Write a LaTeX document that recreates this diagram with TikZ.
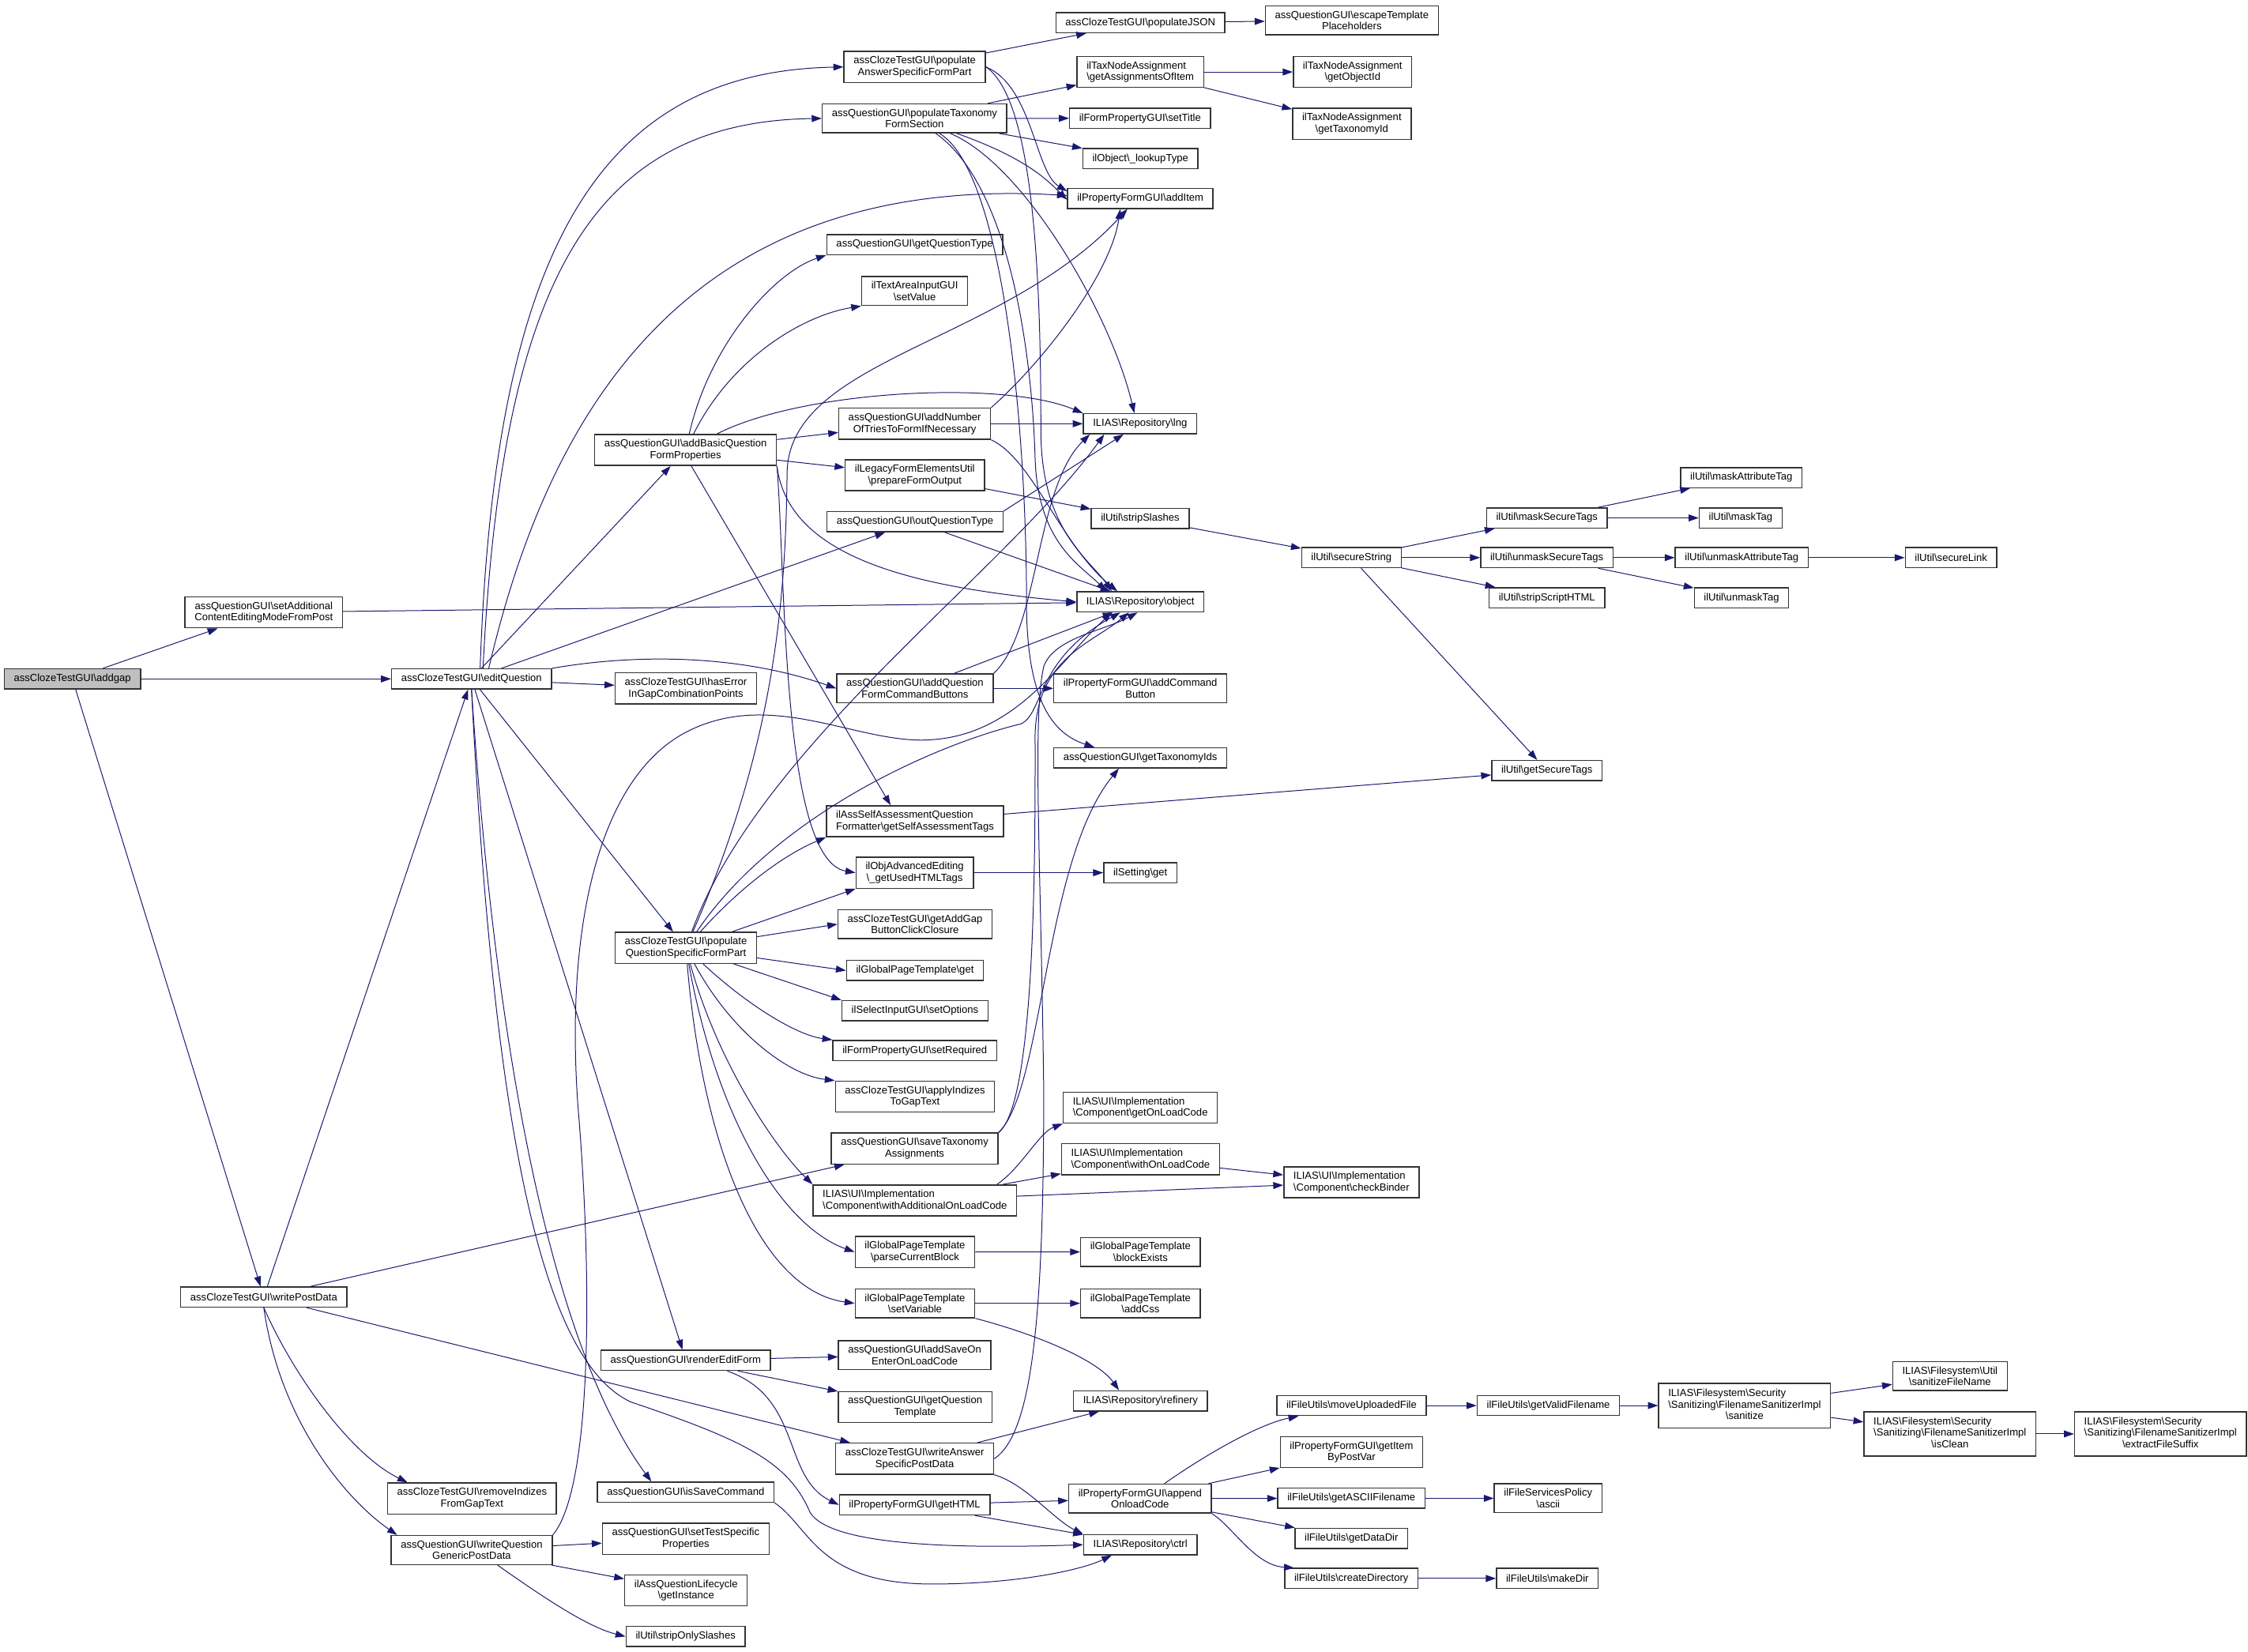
\documentclass[tikz,border=0pt]{standalone}
\usepackage{fontspec}
\setmainfont{Liberation Sans}
\usetikzlibrary{positioning}
\usetikzlibrary{arrows.meta}
\definecolor{edgeblue}{RGB}{25,25,112}
\newcommand{\bsl}{\textbackslash}

\begin{document}
\begin{tikzpicture}[x=1pt, y=-1pt,
    funcnode/.style={rectangle, draw=black!80, fill=white, line width=0.8pt, align=center, inner xsep=6.7pt, inner ysep=3.4pt, minimum height=14pt, font=\fontsize{7.2}{8.1}\selectfont},
    rootnode/.style={funcnode, fill=black!25},
    leftnode/.style={funcnode, align=left},
    callarrow/.style={->, draw=edgeblue, line width=0.55pt},
    >={Triangle[length=7pt, width=4.8pt]},
  ]
  \useasboundingbox (0,0) rectangle (1568,1152);

  %Nodes
  \node[rootnode] (addgap) at (50.5,473.6) {assClozeTestGUI\bsl addgap};
  \node[funcnode] (setAddl) at (184,427.2) {assQuestionGUI\bsl setAdditional\\ContentEditingModeFromPost};
  \node[funcnode] (writePost) at (184,904.8) {assClozeTestGUI\bsl writePostData};

  \node[funcnode] (editQ) at (328.9,473.6) {assClozeTestGUI\bsl editQuestion};
  \node[funcnode] (removeIdx) at (329.2,1045.3) {assClozeTestGUI\bsl removeIndizes\\FromGapText};
  \node[funcnode] (writeGeneric) at (329,1081.3) {assQuestionGUI\bsl writeQuestion\\GenericPostData};

  \node[funcnode] (addBasic) at (478.2,313.9) {assQuestionGUI\bsl addBasicQuestion\\FormProperties};
  \node[funcnode] (hasError) at (478.4,480.2) {assClozeTestGUI\bsl hasError\\InGapCombinationPoints};
  \node[funcnode] (popQSFP) at (478.4,661.2) {assClozeTestGUI\bsl populate\\QuestionSpecificFormPart};
  \node[funcnode] (renderEdit) at (478.3,949) {assQuestionGUI\bsl renderEditForm};
  \node[funcnode] (isSave) at (478.3,1040.9) {assQuestionGUI\bsl isSaveCommand};
  \node[funcnode] (setTestSpec) at (478.3,1073.4) {assQuestionGUI\bsl setTestSpecific\\Properties};
  \node[funcnode] (getInstance) at (478.5,1109.5) {ilAssQuestionLifecycle\\\bsl getInstance};
  \node[funcnode] (stripOnly) at (478.2,1141.6) {ilUtil\bsl stripOnlySlashes};

  \node[funcnode] (popAnswer) at (638,46.7) {assClozeTestGUI\bsl populate\\AnswerSpecificFormPart};
  \node[funcnode] (popTaxo) at (637.9,82.6) {assQuestionGUI\bsl populateTaxonomy\\FormSection};
  \node[funcnode] (getQType) at (638,170.6) {assQuestionGUI\bsl getQuestionType};
  \node[funcnode] (setValue) at (638,203) {ilTextAreaInputGUI\\\bsl setValue};
  \node[funcnode] (addTries) at (638,295.6) {assQuestionGUI\bsl addNumber\\OfTriesToFormIfNecessary};
  \node[funcnode] (prepForm) at (638.1,331.5) {ilLegacyFormElementsUtil\\\bsl prepareFormOutput};
  \node[funcnode] (outQType) at (638.2,364) {assQuestionGUI\bsl outQuestionType};
  \node[funcnode] (addCmdBtns) at (638.2,480.2) {assQuestionGUI\bsl addQuestion\\FormCommandButtons};
  \node[leftnode] (selfAssess) at (638.2,572.9) {ilAssSelfAssessmentQuestion\\Formatter\bsl getSelfAssessmentTags};
  \node[funcnode] (usedHTML) at (638,608.8) {ilObjAdvancedEditing\\\bsl\_getUsedHTMLTags};
  \node[funcnode] (getAddGap) at (638.2,644.7) {assClozeTestGUI\bsl getAddGap\\ButtonClickClosure};
  \node[funcnode] (tplGet) at (638.2,677) {ilGlobalPageTemplate\bsl get};
  \node[funcnode] (setOptions) at (638.2,705.1) {ilSelectInputGUI\bsl setOptions};
  \node[funcnode] (setRequired) at (638.1,732.8) {ilFormPropertyGUI\bsl setRequired};
  \node[funcnode] (applyIdx) at (638.2,765) {assClozeTestGUI\bsl applyIndizes\\ToGapText};
  \node[funcnode] (saveTaxo) at (638,801.2) {assQuestionGUI\bsl saveTaxonomy\\Assignments};
  \node[leftnode] (withAddl) at (638.1,837.4) {ILIAS\bsl UI\bsl Implementation\\\bsl Component\bsl withAdditionalOnLoadCode};
  \node[funcnode] (parseBlock) at (638.2,873.4) {ilGlobalPageTemplate\\\bsl parseCurrentBlock};
  \node[funcnode] (setVar) at (638.2,909.2) {ilGlobalPageTemplate\\\bsl setVariable};
  \node[funcnode] (saveOnEnter) at (638,945.3) {assQuestionGUI\bsl addSaveOn\\EnterOnLoadCode};
  \node[funcnode] (getQTpl) at (638.3,981.5) {assQuestionGUI\bsl getQuestion\\Template};
  \node[funcnode] (writeAnswer) at (638,1017.6) {assClozeTestGUI\bsl writeAnswer\\SpecificPostData};
  \node[funcnode] (getHTML) at (638,1049.8) {ilPropertyFormGUI\bsl getHTML};

  \node[funcnode] (popJSON) at (795.4,15.8) {assClozeTestGUI\bsl populateJSON};
  \node[leftnode] (getAssign) at (795.4,50.2) {ilTaxNodeAssignment\\\bsl getAssignmentsOfItem};
  \node[funcnode] (setTitle) at (795.2,82.5) {ilFormPropertyGUI\bsl setTitle};
  \node[funcnode] (lookupType) at (795.4,110.6) {ilObject\bsl\_lookupType};
  \node[funcnode] (addItem) at (795.4,138.4) {ilPropertyFormGUI\bsl addItem};
  \node[funcnode] (lng) at (795.2,295.6) {ILIAS\bsl Repository\bsl lng};
  \node[funcnode] (stripSlashes) at (795.3,361.7) {ilUtil\bsl stripSlashes};
  \node[funcnode] (object) at (795.4,419.9) {ILIAS\bsl Repository\bsl object};
  \node[funcnode] (addCmdBtn) at (795.4,480.2) {ilPropertyFormGUI\bsl addCommand\\Button};
  \node[funcnode] (getTaxoIds) at (795.4,528.7) {assQuestionGUI\bsl getTaxonomyIds};
  \node[funcnode] (settingGet) at (795.4,608.8) {ilSetting\bsl get};
  \node[leftnode] (getOnLoad) at (795.4,772.7) {ILIAS\bsl UI\bsl Implementation\\\bsl Component\bsl getOnLoadCode};
  \node[leftnode] (withOnLoad) at (795.5,808.7) {ILIAS\bsl UI\bsl Implementation\\\bsl Component\bsl withOnLoadCode};
  \node[funcnode] (blockExists) at (795.5,873.3) {ilGlobalPageTemplate\\\bsl blockExists};
  \node[funcnode] (addCss) at (795.5,909.2) {ilGlobalPageTemplate\\\bsl addCss};
  \node[funcnode] (refinery) at (795.5,977.2) {ILIAS\bsl Repository\bsl refinery};
  \node[funcnode] (appendOnload) at (795.2,1045.4) {ilPropertyFormGUI\bsl append\\OnloadCode};
  \node[funcnode] (ctrl) at (795.4,1077.6) {ILIAS\bsl Repository\bsl ctrl};

  \node[funcnode] (escapeTpl) at (942.9,14.2) {assQuestionGUI\bsl escapeTemplate\\Placeholders};
  \node[funcnode] (getObjId) [right=61.8pt of getAssign] {ilTaxNodeAssignment\\\bsl getObjectId};
  \node[funcnode] (getTaxoId) at (942.9,86.4) {ilTaxNodeAssignment\\\bsl getTaxonomyId};
  \node[funcnode] (secureString) at (942.6,389) {ilUtil\bsl secureString};
  \node[leftnode] (checkBinder) at (942.6,824.8) {ILIAS\bsl UI\bsl Implementation\\\bsl Component\bsl checkBinder};
  \node[funcnode] (moveUploaded) at (942.7,980.5) {ilFileUtils\bsl moveUploadedFile};
  \node[funcnode] (getItemByPV) at (942.7,1013) {ilPropertyFormGUI\bsl getItem\\ByPostVar};
  \node[funcnode] (getASCII) at (942.6,1045.2) {ilFileUtils\bsl getASCIIFilename};
  \node[funcnode] (getDataDir) at (942.6,1073.1) {ilFileUtils\bsl getDataDir};
  \node[funcnode] (createDir) at (942.6,1101.1) {ilFileUtils\bsl createDirectory};

  \node[funcnode] (maskSecure) at (1079,361.3) {ilUtil\bsl maskSecureTags};
  \node[funcnode] (unmaskSecure) at (1078.9,389) {ilUtil\bsl unmaskSecureTags};
  \node[funcnode] (stripScript) at (1079,417) {ilUtil\bsl stripScriptHTML};
  \node[funcnode] (getSecureTags) at (1079,537.5) {ilUtil\bsl getSecureTags};
  \node[funcnode] (validName) [right=34.7pt of moveUploaded] {ilFileUtils\bsl getValidFilename};
  \node[funcnode] (ascii) [right=47.6pt of getASCII] {ilFileServicesPolicy\\\bsl ascii};
  \node[funcnode] (makeDir) [right=53.9pt of createDir] {ilFileUtils\bsl makeDir};

  \node[funcnode] (maskAttr) at (1214.6,333.2) {ilUtil\bsl maskAttributeTag};
  \node[funcnode] (maskTag) [right=63.3pt of maskSecure] {ilUtil\bsl maskTag};
  \node[funcnode] (unmaskAttr) [right=42.7pt of unmaskSecure] {ilUtil\bsl unmaskAttributeTag};
  \node[funcnode] (unmaskTag) at (1214.7,417) {ilUtil\bsl unmaskTag};
  \node[funcnode] (sanitize) [right=26.5pt of validName] {\begin{tabular}{@{}l@{}}ILIAS\bsl Filesystem\bsl Security\\\bsl Sanitizing\bsl FilenameSanitizerImpl\\\multicolumn{1}{@{}c@{}}{\bsl sanitize}\end{tabular}};

  \node[funcnode] (secureLink) [right=67pt of unmaskAttr] {ilUtil\bsl secureLink};
  \node[funcnode] (sanitizeFN) at (1360.1,960) {ILIAS\bsl Filesystem\bsl Util\\\bsl sanitizeFileName};
  \node[funcnode] (isClean) at (1360.1,1000.3) {\begin{tabular}{@{}l@{}}ILIAS\bsl Filesystem\bsl Security\\\bsl Sanitizing\bsl FilenameSanitizerImpl\\\multicolumn{1}{@{}c@{}}{\bsl isClean}\end{tabular}};
  \node[funcnode] (extract) [right=26.2pt of isClean] {\begin{tabular}{@{}l@{}}ILIAS\bsl Filesystem\bsl Security\\\bsl Sanitizing\bsl FilenameSanitizerImpl\\\multicolumn{1}{@{}c@{}}{\bsl extractFileSuffix}\end{tabular}};

  %Lines
  \draw[callarrow] (addgap) -- (setAddl);
  \draw[callarrow] (addgap) -- (editQ);
  \draw[callarrow] (addgap) -- (writePost);
  \draw[callarrow] (setAddl) -- (object);

  \draw[callarrow] ([xshift=6pt]editQ.north) .. controls (345,170) and (420,50) .. (popAnswer.west);
  \draw[callarrow] ([xshift=8pt]editQ.north) .. controls (350,200) and (410,85) .. (popTaxo.west);
  \draw[callarrow] ([xshift=12pt]editQ.north) .. controls (380,300) and (470,120) .. ([yshift=2pt]addItem.west);
  \draw[callarrow] (editQ) -- (addBasic);
  \draw[callarrow] (editQ) -- (outQType);
  \draw[callarrow] (editQ.north east) .. controls (450,455) and (520,458) .. (addCmdBtns.west);
  \draw[callarrow] (editQ) -- (hasError);
  \draw[callarrow] (editQ) -- (popQSFP);
  \draw[callarrow] (editQ) -- (renderEdit);
  \draw[callarrow] (editQ.south) .. controls (350,800) and (400,960) .. ([xshift=-24pt]isSave.north);
  \draw[callarrow] (editQ.south) .. controls (345,800) and (380,950) .. (440,978) .. controls (520,1005) and (550,1020) .. (565,1055) .. controls (580,1080) and (680,1080) .. (ctrl.west);

  \draw[callarrow] (writePost) -- (editQ);
  \draw[callarrow] (writePost.south) .. controls (205,960) and (245,1015) .. ([xshift=-45pt]removeIdx.north);
  \draw[callarrow] (writePost.south) .. controls (195,990) and (240,1045) .. ([xshift=-52pt]writeGeneric.north);
  \draw[callarrow] (writePost) -- (saveTaxo);
  \draw[callarrow] (writePost) -- (writeAnswer);

  \draw[callarrow] (writeGeneric) -- (setTestSpec);
  \draw[callarrow] (writeGeneric) -- (getInstance);
  \draw[callarrow] ([xshift=18pt]writeGeneric.south) .. controls (380,1115) and (410,1135) .. (stripOnly.west);
  \draw[callarrow] (writeGeneric.north east) .. controls (412,1040) and (414,900) .. (403,770) .. controls (394,640) and (420,540) .. (480,510) .. controls (540,480) and (600,520) .. (650,516) .. controls (710,512) and (740,460) .. ([xshift=-20pt]object.south);

  \draw[callarrow] (popAnswer) -- (popJSON);
  \draw[callarrow] (popAnswer.east) .. controls (720,60) and (722,120) .. ([yshift=5pt]addItem.west);
  \draw[callarrow] (popAnswer.east) .. controls (722,70) and (726,200) .. (726,300) .. controls (726,370) and (760,390) .. ([xshift=-20pt]object.north);

  \draw[callarrow] (popTaxo) -- (getAssign);
  \draw[callarrow] (popTaxo) -- (setTitle);
  \draw[callarrow] (popTaxo) -- (lookupType);
  \draw[callarrow] (popTaxo) .. controls (715,110) and (730,125) .. ([yshift=-1pt]addItem.west);
  \draw[callarrow] (popTaxo) .. controls (715,115) and (775,220) .. ([xshift=-4pt]lng.north);
  \draw[callarrow] (popTaxo) .. controls (705,130) and (720,250) .. (722,320) .. controls (724,380) and (755,395) .. ([xshift=-24pt]object.north);
  \draw[callarrow] (popTaxo) .. controls (700,120) and (716,300) .. (716,420) .. controls (716,490) and (735,512) .. ([xshift=-32pt]getTaxoIds.north);

  \draw[callarrow] (addBasic) .. controls (495,240) and (540,190) .. (getQType.south west);
  \draw[callarrow] (addBasic) .. controls (510,250) and (560,220) .. (setValue.south west);
  \draw[callarrow] (addBasic) -- (addTries);
  \draw[callarrow] (addBasic) -- (prepForm);
  \draw[callarrow] (addBasic) .. controls (560,272) and (700,265) .. (lng.north west);
  \draw[callarrow] ([xshift=4pt]addBasic.south) -- ([xshift=-17pt]selfAssess.north);
  \draw[callarrow] (addBasic.south east) .. controls (548,400) and (545,600) .. (usedHTML.west);
  \draw[callarrow] (addBasic.south east) .. controls (550,390) and (640,410) .. (object.west);

  \draw[callarrow] (popQSFP) .. controls (520,615) and (550,595) .. (selfAssess.south west);
  \draw[callarrow] (popQSFP) -- (usedHTML.south west);
  \draw[callarrow] (popQSFP) -- (getAddGap.west);
  \draw[callarrow] (popQSFP) -- (tplGet.west);
  \draw[callarrow] (popQSFP) -- (setOptions.north west);
  \draw[callarrow] (popQSFP) .. controls (520,700) and (555,722) .. (setRequired.north west);
  \draw[callarrow] (popQSFP) .. controls (510,720) and (550,750) .. (applyIdx.north west);
  \draw[callarrow] (popQSFP) .. controls (500,740) and (540,800) .. (withAddl.north west);
  \draw[callarrow] (popQSFP) .. controls (500,780) and (545,855) .. (parseBlock.west);
  \draw[callarrow] (popQSFP) .. controls (490,800) and (530,900) .. (setVar.west);
  \draw[callarrow] (popQSFP) .. controls (530,520) and (700,400) .. ([xshift=-25pt]lng.south);
  \draw[callarrow] (popQSFP) .. controls (540,570) and (650,520) .. (712,505) .. controls (728,498) and (722,460) .. ([xshift=-14pt]object.south);
  \draw[callarrow] (popQSFP) .. controls (540,520) and (548,420) .. (549,330) .. controls (550,250) and (700,240) .. ([xshift=-9pt]addItem.south);

  \draw[callarrow] (addTries.north east) .. controls (730,250) and (775,190) .. ([xshift=-14pt]addItem.south);
  \draw[callarrow] (addTries) -- (lng);
  \draw[callarrow] (addTries.south east) .. controls (720,320) and (740,380) .. ([xshift=-16pt]object.north);
  \draw[callarrow] (prepForm) -- (stripSlashes);
  \draw[callarrow] (outQType.north east) -- (lng);
  \draw[callarrow] (outQType) -- (object);

  \draw[callarrow] (addCmdBtns) -- (addCmdBtn);
  \draw[callarrow] (addCmdBtns) -- (object);
  \draw[callarrow] (addCmdBtns.north east) .. controls (725,440) and (722,340) .. ([xshift=-35pt]lng.south);
  \draw[callarrow] (selfAssess) -- (getSecureTags);
  \draw[callarrow] (usedHTML) -- (settingGet);

  \draw[callarrow] (saveTaxo.north east) .. controls (722,770) and (722,600) .. (722,520) .. controls (720,460) and (760,450) .. ([xshift=-8pt]object.south);
  \draw[callarrow] (saveTaxo.north east) .. controls (728,760) and (728,600) .. ([xshift=-15pt]getTaxoIds.south);
  \draw[callarrow] ([xshift=-14pt]withAddl.north east) .. controls (712,815) and (725,790) .. (getOnLoad.south west);
  \draw[callarrow] (withAddl) -- (withOnLoad);
  \draw[callarrow] (withAddl) -- (checkBinder);
  \draw[callarrow] (withOnLoad) -- (checkBinder);
  \draw[callarrow] (parseBlock) -- (blockExists);
  \draw[callarrow] (setVar) -- (addCss);
  \draw[callarrow] (setVar.south east) .. controls (720,930) and (765,948) .. ([xshift=-15pt]refinery.north);

  \draw[callarrow] (renderEdit) -- (saveOnEnter);
  \draw[callarrow] (renderEdit) -- (getQTpl);
  \draw[callarrow] ([xshift=29pt]renderEdit.south) .. controls (560,975) and (545,1030) .. (getHTML.west);

  \draw[callarrow] (writeAnswer) -- (refinery);
  \draw[callarrow] (writeAnswer.south east) .. controls (715,1035) and (735,1060) .. (ctrl.north west);
  \draw[callarrow] (writeAnswer.east) .. controls (720,1000) and (728,920) .. (728,760) .. controls (726,600) and (720,500) .. (728,465) .. controls (735,445) and (770,440) .. ([xshift=-2pt]object.south);
  \draw[callarrow] (isSave.south east) .. controls (565,1065) and (570,1105) .. (650,1105) .. controls (710,1105) and (755,1095) .. ([xshift=-20pt]ctrl.south);

  \draw[callarrow] (getHTML) -- (appendOnload);
  \draw[callarrow] (getHTML) -- (ctrl);
  \draw[callarrow] ([xshift=17pt]appendOnload.north) .. controls (845,1012) and (880,993) .. ([xshift=-37pt]moveUploaded.south);
  \draw[callarrow] (appendOnload) -- (getItemByPV);
  \draw[callarrow] (appendOnload) -- (getASCII);
  \draw[callarrow] (appendOnload) -- (getDataDir);
  \draw[callarrow] (appendOnload.south east) .. controls (860,1065) and (875,1092) .. ([xshift=-40pt]createDir.north);

  \draw[callarrow] (moveUploaded) -- (validName);
  \draw[callarrow] (validName) -- (sanitize);
  \draw[callarrow] (sanitize) -- (sanitizeFN);
  \draw[callarrow] (sanitize) -- (isClean);
  \draw[callarrow] (isClean) -- (extract);
  \draw[callarrow] (getASCII) -- (ascii);
  \draw[callarrow] (createDir) -- (makeDir);

  \draw[callarrow] (popJSON) -- (escapeTpl);
  \draw[callarrow] (getAssign) -- (getObjId);
  \draw[callarrow] (getAssign) -- (getTaxoId);
  \draw[callarrow] (stripSlashes) -- (secureString);
  \draw[callarrow] (secureString) -- (maskSecure);
  \draw[callarrow] (secureString) -- (unmaskSecure);
  \draw[callarrow] (secureString) -- (stripScript);
  \draw[callarrow] (secureString) -- (getSecureTags);
  \draw[callarrow] (maskSecure) -- (maskAttr);
  \draw[callarrow] (maskSecure) -- (maskTag);
  \draw[callarrow] (unmaskSecure) -- (unmaskAttr);
  \draw[callarrow] (unmaskSecure) -- (unmaskTag);
  \draw[callarrow] (unmaskAttr) -- (secureLink);
\end{tikzpicture}
\end{document}
